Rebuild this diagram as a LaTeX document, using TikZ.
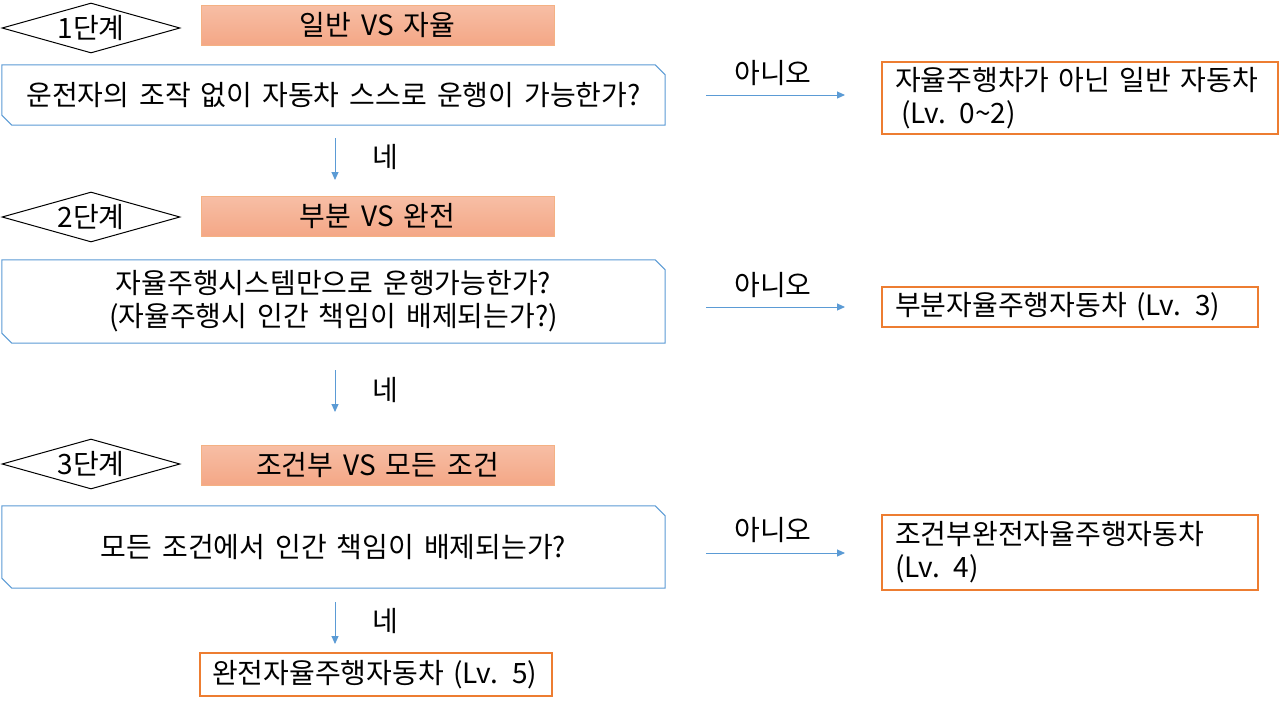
\documentclass[tikz,border=0pt]{standalone}
\usepackage{fontspec}
\setmainfont[WordSpace=1.6]{Noto Sans CJK KR}
\usetikzlibrary{shapes.geometric,arrows.meta}
\definecolor{qblue}{HTML}{5B9BD5}
\definecolor{rorange}{HTML}{ED7D31}
\definecolor{htop}{HTML}{F7BEA5}
\definecolor{hbot}{HTML}{F4A786}
\definecolor{hline}{HTML}{F4B183}
\tikzset{
 txt/.style={font=\fontsize{28pt}{33pt}\selectfont, text=black},
 stagebox/.style={txt, draw=black, line width=1pt, shape=diamond, aspect=3.56, minimum width=178pt, minimum height=50pt, inner sep=0pt},
 headbox/.style={txt, draw=hline, line width=1pt, top color=htop, bottom color=hbot, minimum width=353pt, minimum height=40pt, inner sep=0pt},
 qbox/.style={txt, minimum width=663pt, inner sep=0pt, align=center},
 qline/.style={draw=qblue, line width=1pt},
 rbox/.style={txt, draw=rorange, line width=1.2pt, inner ysep=0pt, inner xsep=13pt, align=left},
 arr/.style={draw=qblue, line width=1pt, -{Triangle[length=8pt,width=7pt]}},
 lbl/.style={txt, inner sep=0pt},
}
\begin{document}
\begin{tikzpicture}[x=1pt,y=-1pt]
\useasboundingbox[fill=white] (0,0) rectangle (1280,707);
% stage 1
\node[stagebox] (d1) at (91,28) {1단계};
\node[headbox] (h1) at (377.5,25) {일반 VS 자율};
\node[qbox, minimum height=60pt] (q1) at (333.5,95) {운전자의 조작 없이 자동차 스스로 운행이 가능한가?};
\node[rbox, text width=370pt, minimum height=72pt] (r1) at (1080,98) {자율주행차가 아닌 일반 자동차\\\hspace*{6pt}(Lv. 0\textasciitilde 2)};
% stage 2
\node[stagebox] (d2) at (91,217) {2단계};
\node[headbox] (h2) at (377.5,216.5) {부분 VS 완전};
\node[qbox, minimum height=83pt] (q2) at (333.5,301.5) {자율주행시스템만으로 운행가능한가?\\(자율주행시 인간 책임이 배제되는가?)};
\node[rbox, text width=350pt, minimum height=40pt] (r2) at (1070,307) {부분자율주행자동차 (Lv. 3)};
% stage 3
\node[stagebox] (d3) at (91,464) {3단계};
\node[headbox] (h3) at (377.5,465) {조건부 VS 모든 조건};
\node[qbox, minimum height=82pt] (q3) at (333.5,547) {모든 조건에서 인간 책임이 배제되는가?};
\node[rbox, text width=350pt, minimum height=75pt] (r3) at (1070,552.5) {조건부완전자율주행자동차\\(Lv. 4)};
% final
\node[rbox, text width=328pt, inner xsep=12pt, minimum height=43pt] (f) at (376,674.5) {완전자율주행자동차 (Lv. 5)};
% snipped question boxes
\foreach \q in {q1,q2,q3}{
  \draw[qline] (\q.north west) -- ([xshift=-10pt]\q.north east) -- ([yshift=-10pt]\q.north east)
    -- (\q.south east) -- ([xshift=10pt]\q.south west) -- ([yshift=10pt]\q.south west) -- cycle;
}
% arrow end points
\coordinate (a1s) at (706,95);  \coordinate (a1e) at (845,95);
\coordinate (a2s) at (706,307); \coordinate (a2e) at (845,307);
\coordinate (a3s) at (706,553); \coordinate (a3e) at (845,553);
\coordinate (b1s) at (335,138); \coordinate (b1e) at (335,180);
\coordinate (b2s) at (335,370); \coordinate (b2e) at (335,412);
\coordinate (b3s) at (335,602); \coordinate (b3e) at (335,644);
\draw[arr] (a1s) -- (a1e);
\draw[arr] (a2s) -- (a2e);
\draw[arr] (a3s) -- (a3e);
\draw[arr] (b1s) -- (b1e);
\draw[arr] (b2s) -- (b2e);
\draw[arr] (b3s) -- (b3e);
\node[lbl] (n1) at (773,73) {아니오};
\node[lbl] (n2) at (773,285) {아니오};
\node[lbl] (n3) at (773,530) {아니오};
\node[lbl] (y1) at (385,157) {네};
\node[lbl] (y2) at (385,390) {네};
\node[lbl] (y3) at (385,621) {네};
\end{tikzpicture}
\end{document}
